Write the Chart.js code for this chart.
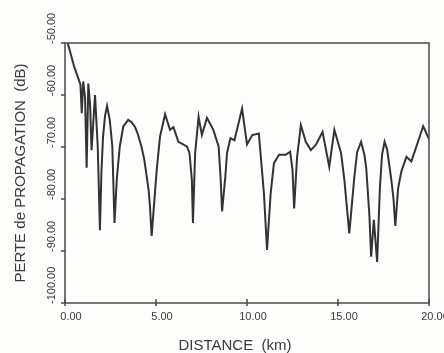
<!DOCTYPE html>
<html>
<head>
<meta charset="utf-8">
<script src="https://cdn.jsdelivr.net/npm/chart.js@4/dist/chart.umd.min.js"></script>
<style>
  html, body { margin: 0; padding: 0; background: #fdfdfb; }
  canvas { display: block; }
</style>
</head>
<body>
<canvas id="perte" width="444" height="353"></canvas>
<script>
const distanceKm = [0.15, 0.5, 0.75, 0.85, 0.92, 1.0, 1.1, 1.19, 1.28, 1.38, 1.46, 1.65, 1.8, 1.92,
  2.0, 2.09, 2.2, 2.31, 2.46, 2.6, 2.72, 2.85, 3.01, 3.2, 3.47, 3.65, 3.84, 4.0, 4.2, 4.35, 4.49,
  4.6, 4.67, 4.76, 5.04, 5.22, 5.5,
  5.77, 5.96, 6.23, 6.7, 6.84, 6.97, 7.03, 7.15, 7.34, 7.52, 7.8, 8.15, 8.44, 8.55, 8.63, 8.81,
  8.9, 9.09, 9.31, 9.73, 10.0, 10.29, 10.65, 10.93, 11.1, 11.3, 11.48, 11.76, 12.13, 12.37,
  12.5, 12.59, 12.75, 12.96, 13.23, 13.51, 13.78, 14.15, 14.52, 14.8, 15.17, 15.35, 15.62,
  15.9, 16.05, 16.27, 16.45, 16.55, 16.73, 16.82, 16.97, 17.15, 17.3, 17.42, 17.56, 17.7, 17.93,
  18.05, 18.15, 18.3, 18.48, 18.76, 19.03, 19.68, 20.0];
const perteDb = [-50, -54.5, -57, -58, -63.5, -57.4, -60.5, -74, -57.8, -62, -70.6, -60, -70, -86,
  -75, -68, -64, -62.1, -64.8, -69.9, -84.6, -76, -69.9, -66.1, -64.8, -65.2, -66.1, -67.5, -69.9, -72.3, -75.7,
  -78.5, -81.5, -87.1, -74.4, -68, -63.7,
  -66.7, -66.2, -69, -69.9, -71.2, -76.3, -84.6, -71.2, -64.2, -67.7, -64.4, -66.7, -69.9, -76, -82.4, -75.7,
  -71.2, -68.3, -68.7, -62.6, -69.5, -67.7, -67.4, -78.9, -89.8, -78.9, -73.1, -71.5, -71.5, -70.9,
  -74.4, -81.8, -72, -65.8, -69, -70.6, -69.6, -67.1, -73.8, -66.7, -71.2, -76.3, -86.6,
  -75.7, -71, -69, -71.5, -74, -83.4, -91.1, -84, -92.1, -78, -71.5, -69, -70.5, -76.3,
  -80, -85.2, -78, -74.7, -71.9, -72.8, -66, -68.5];
const xTicks = [0, 5, 10, 15, 20];
const xTickLabels = ['0.00', '5.00', '10.00', '15.00', '20.00'];
const yTicks = [-50, -60, -70, -80, -90, -100];
const yTickLabels = ['-50.00', '-60.00', '-70.00', '-80.00', '-90.00', '-100.00'];

const encre = '#3a3a3a';

// axes, graduations et titres dessines a la main
const cadre = {
  id: 'cadre',
  beforeDraw(chart) {
    const c = chart.ctx;
    c.save();
    c.fillStyle = '#fdfdfb';
    c.fillRect(0, 0, chart.width, chart.height);
    c.restore();
  },
  afterDraw(chart) {
    const c = chart.ctx;
    const a = chart.chartArea;
    const sx = chart.scales.x;
    const sy = chart.scales.y;
    c.save();
    c.strokeStyle = '#4a4a4a';
    c.lineWidth = 1.5;
    c.strokeRect(a.left, a.top, a.right - a.left, a.bottom - a.top);

    c.fillStyle = encre;
    c.font = '11px "Liberation Sans", Arial, sans-serif';
    c.textAlign = 'center';
    c.textBaseline = 'middle';
    xTicks.forEach((v, i) => {
      const px = sx.getPixelForValue(v);
      c.beginPath();
      c.moveTo(px, a.bottom + 3);
      c.lineTo(px, a.bottom - 4);
      c.stroke();
      c.fillText(xTickLabels[i], px + 6, a.bottom + 14);
    });

    yTicks.forEach((v, i) => {
      const py = sy.getPixelForValue(v);
      c.beginPath();
      c.moveTo(a.left - 4, py);
      c.lineTo(a.left, py);
      c.stroke();
      c.save();
      c.translate(52, py + 1);
      c.rotate(-Math.PI / 2);
      c.textAlign = 'left';
      c.fillText(yTickLabels[i], 0, 0);
      c.restore();
    });

    c.font = '15px "Liberation Sans", Arial, sans-serif';
    c.textAlign = 'center';
    c.fillText('DISTANCE  (km)', 235, 346);
    c.save();
    c.translate(21, 173);
    c.rotate(-Math.PI / 2);
    c.fillText('PERTE de PROPAGATION  (dB)', 0, 0);
    c.restore();
    c.restore();
  }
};

const ctx = document.getElementById('perte');
new Chart(ctx, {
  type: 'scatter',
  data: {
    datasets: [{
      data: distanceKm.map((d, i) => ({ x: d, y: perteDb[i] })),
      showLine: true,
      borderColor: '#333333',
      borderWidth: 2,
      pointRadius: 0,
      tension: 0
    }]
  },
  options: {
    responsive: false,
    animation: false,
    layout: {
      padding: { left: 65, top: 43, right: 15, bottom: 50 }
    },
    plugins: {
      legend: { display: false },
      tooltip: { enabled: false }
    },
    scales: {
      x: { type: 'linear', display: false, min: 0, max: 20 },
      y: { type: 'linear', display: false, min: -100, max: -50 }
    }
  },
  plugins: [cadre]
});
</script>
</body>
</html>
